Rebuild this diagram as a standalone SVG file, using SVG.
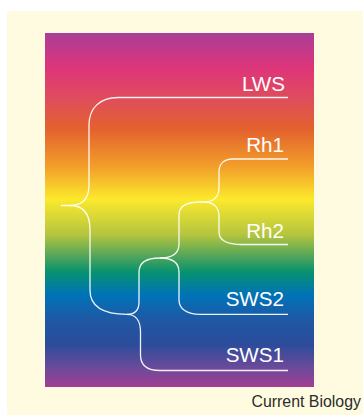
<svg xmlns="http://www.w3.org/2000/svg" width="363" height="415" viewBox="0 0 363 415">
  <defs>
    <linearGradient id="spec" x1="0" y1="0" x2="0" y2="1">
      <stop offset="0" stop-color="#a93e97"/>
      <stop offset="0.099" stop-color="#de3579"/>
      <stop offset="0.19" stop-color="#df4e5a"/>
      <stop offset="0.27" stop-color="#e3612e"/>
      <stop offset="0.38" stop-color="#f2a02a"/>
      <stop offset="0.47" stop-color="#fce92c"/>
      <stop offset="0.57" stop-color="#b4c53f"/>
      <stop offset="0.62" stop-color="#63aa55"/>
      <stop offset="0.675" stop-color="#07926f"/>
      <stop offset="0.74" stop-color="#0073b8"/>
      <stop offset="0.81" stop-color="#1f58a4"/>
      <stop offset="0.88" stop-color="#2c4c9b"/>
      <stop offset="0.946" stop-color="#6b4a9a"/>
      <stop offset="1" stop-color="#a23e92"/>
    </linearGradient>
    <style>
      .br { fill: none; stroke: #ffffff; stroke-width: 1.3; stroke-opacity: 0.92; }
      .lbl { font-family: "Liberation Sans", Arial, sans-serif; font-size: 20.6px; fill: #ffffff; text-anchor: end; }
      .cap { font-family: "Liberation Sans", Arial, sans-serif; font-size: 15.9px; fill: #2b2b2b; text-anchor: end; }
    </style>
  </defs>
  <rect x="0" y="0" width="363" height="415" fill="#ffffff"/>
  <rect x="7" y="11" width="356" height="404" fill="#fffbe0"/>
  <rect id="spectrum" x="45" y="33" width="269" height="354" fill="url(#spec)"/>

  <g id="connectors">
    <path class="br" d="M61,205.5 H70 C81,205.5 89,200 89,185 V125 C89,108 100,97.5 118,97.5 H288"/>
    <path class="br" d="M70,205.5 C82,205.5 90,212 90,230 V290 C90,306 103,314.3 127,314.3"/>
    <path class="br" d="M127,314.3 C135,314.3 139,310 139,302 V272 C139,262 146,258 160,258"/>
    <path class="br" d="M127,314.3 C135,314.3 140.5,320 140.5,332 V355 C140.5,365 146,370.5 160,370.5 H288"/>
    <path class="br" d="M160,258 C171,258 179,254 179,244 V215 C179,206 186,202 200,202 H205"/>
    <path class="br" d="M160,258 C171,258 179,262 179,272 V300 C179,309 187,314.3 200,314.3 H288"/>
    <path class="br" d="M205,202 C213,202 219,197 219,188 V172 C219,164 224,159 233,159 H288"/>
    <path class="br" d="M205,202 C213,202 219,207 219,216 V232 C219,240 226,244.5 242,244.5 H288"/>
  </g>

  <g id="LWS"><text class="lbl" x="285" y="91">LWS</text></g>
  <g id="Rh1"><text class="lbl" x="284" y="151.5">Rh1</text></g>
  <g id="Rh2"><text class="lbl" x="284" y="237.5">Rh2</text></g>
  <g id="SWS2"><text class="lbl" x="284" y="305.5">SWS2</text></g>
  <g id="SWS1"><text class="lbl" x="284" y="361.5">SWS1</text></g>
  <text class="cap" x="361" y="406.5">Current Biology</text>
</svg>
